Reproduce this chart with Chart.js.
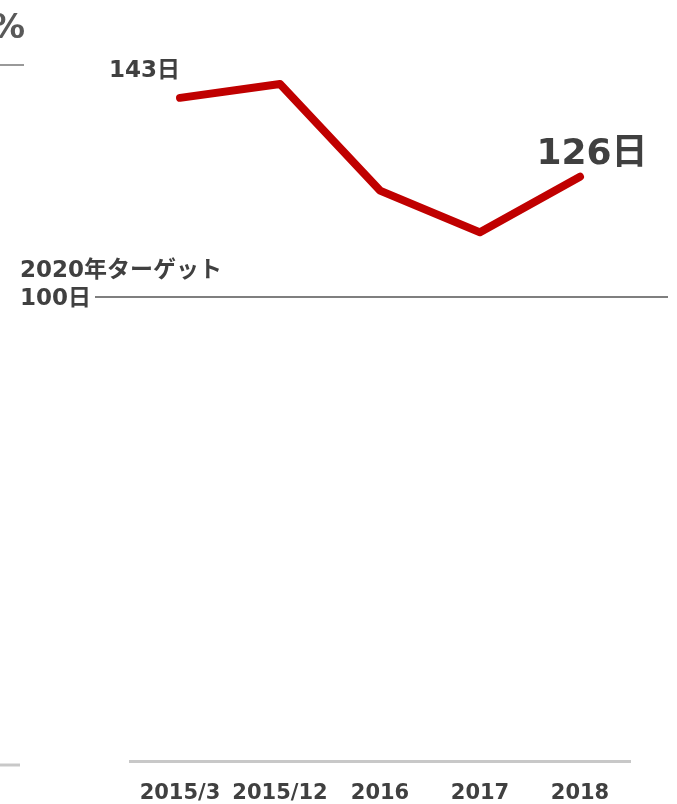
<!DOCTYPE html>
<html>
<head>
<meta charset="utf-8">
<script src="https://cdn.jsdelivr.net/npm/chart.js@4"></script>
<style>
  html, body { margin: 0; padding: 0; background: #fff; }
  #wrap { width: 677px; height: 804px; position: relative; }
</style>
</head>
<body>
<div id="wrap"><canvas id="chart"></canvas></div>
<script>
const periods = ['2015/3', '2015/12', '2016', '2017', '2018'];
const days = [143, 146, 123, 114, 126];
const targetDays = 100;
const targetTitle = '2020年ターゲット';
const unit = '日';

const fontFamily = '"DejaVu Sans", "Noto Sans CJK JP", sans-serif';
const textColor = '#404040';

// labels, target line and the bits of the neighbouring panel at the left edge
const decorations = {
    id: 'decorations',
    afterDatasetsDraw(chart) {
        const ctx = chart.ctx;
        const y = chart.scales.y;
        const pts = chart.getDatasetMeta(0).data;
        ctx.save();

        // neighbouring panel remnants
        ctx.fillStyle = '#595959';
        ctx.font = `bold 34px ${fontFamily}`;
        ctx.textAlign = 'right';
        ctx.textBaseline = 'alphabetic';
        ctx.fillText('%', 25, 38);
        ctx.strokeStyle = '#999';
        ctx.lineWidth = 2;
        ctx.beginPath();
        ctx.moveTo(0, 65);
        ctx.lineTo(24, 65);
        ctx.stroke();
        ctx.strokeStyle = '#c8c8c8';
        ctx.lineWidth = 3;
        ctx.beginPath();
        ctx.moveTo(0, 765);
        ctx.lineTo(20, 765);
        ctx.stroke();

        // target line
        const ty = Math.round(y.getPixelForValue(targetDays));
        ctx.strokeStyle = '#7f7f7f';
        ctx.lineWidth = 2;
        ctx.beginPath();
        ctx.moveTo(95, ty);
        ctx.lineTo(668, ty);
        ctx.stroke();
        ctx.fillStyle = textColor;
        ctx.font = `bold 23px ${fontFamily}`;
        ctx.textAlign = 'left';
        ctx.textBaseline = 'middle';
        ctx.fillText(targetTitle, 20, ty - 26);
        ctx.fillText(targetDays + unit, 20, ty + 2);

        // first and last value labels
        const first = pts[0];
        ctx.font = `bold 23px ${fontFamily}`;
        ctx.textAlign = 'right';
        ctx.fillText(days[0] + unit, first.x, first.y - 27);
        const last = pts[pts.length - 1];
        ctx.font = `bold 36px ${fontFamily}`;
        ctx.textAlign = 'center';
        ctx.textBaseline = 'alphabetic';
        ctx.fillText(days[days.length - 1] + unit, last.x + 12, last.y - 13);

        ctx.restore();
    }
};

new Chart(document.getElementById('chart'), {
    type: 'line',
    data: {
        labels: periods,
        datasets: [{
            data: days,
            borderColor: '#c00000',
            borderWidth: 8,
            borderCapStyle: 'round',
            borderJoinStyle: 'round',
            pointRadius: 0,
            tension: 0,
            fill: false
        }]
    },
    options: {
        responsive: true,
        maintainAspectRatio: false,
        animation: false,
        layout: { padding: { left: 130, right: 47, top: 19, bottom: 0 } },
        plugins: {
            legend: { display: false },
            tooltip: { enabled: false }
        },
        scales: {
            x: {
                offset: true,
                grid: { display: false },
                border: { display: true, color: '#c8c8c8', width: 3 },
                afterFit(scale) { scale.height = 43; },
                ticks: {
                    autoSkip: false,
                    maxRotation: 0,
                    color: textColor,
                    padding: 12,
                    font: { family: fontFamily, size: 21, weight: 'bold' }
                }
            },
            y: {
                display: false,
                min: 0,
                max: 160
            }
        }
    },
    plugins: [decorations]
});
</script>
</body>
</html>
